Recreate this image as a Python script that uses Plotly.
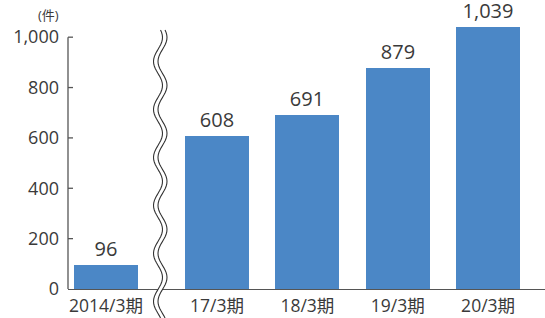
import math
import plotly.graph_objects as go

categories = ["2014/3期", "17/3期", "18/3期", "19/3期", "20/3期"]
values = [96, 608, 691, 879, 1039]
value_labels = ["96", "608", "691", "879", "1,039"]
ytick_vals = [0, 200, 400, 600, 800, 1000]
ytick_text = ["0", "200", "400", "600", "800", "1,000"]
unit_label = "(件)"

W, H = 545, 318
L, R, T, B = 68, 0, 12, 29
PW, PH = W - L - R, H - T - B

# category positions, with extra gap after the first (axis break)
BREAK_GAP = 0.23
xpos = [i + (BREAK_GAP if i > 0 else 0) for i in range(len(categories))]

FONT = "Open Sans, Noto Sans CJK JP, sans-serif"
TXT = "#3a3a3a"
BAR = "#4B87C6"

fig = go.Figure()
fig.add_trace(go.Bar(
    x=xpos, y=values, width=0.707, marker=dict(color=BAR, line=dict(width=0)),
    text=value_labels, textposition="outside", cliponaxis=False,
    textfont=dict(size=20, color=TXT, family=FONT),
))

fig.update_layout(
    width=W, height=H, margin=dict(l=L, r=R, t=T, b=B, pad=0, autoexpand=False),
    paper_bgcolor="white", plot_bgcolor="white", showlegend=False,
    font=dict(family=FONT, color=TXT),
    bargap=0,
)
fig.update_xaxes(range=[-0.42, 4.86], tickvals=xpos, ticktext=categories,
                 showgrid=False, zeroline=False, showline=True, linecolor="#555",
                 linewidth=1.3, ticks="", automargin=False, ticklabelstandoff=1,
                 tickfont=dict(size=17.5, color=TXT, family=FONT))
fig.update_yaxes(range=[0, 1100], tickvals=ytick_vals, ticktext=ytick_text,
                 showgrid=False, zeroline=False, showline=False, automargin=False,
                 ticks="", ticklabelstandoff=8,
                 tickfont=dict(size=18, color=TXT, family=FONT))

# y-axis line only from 0 to 1000, with short ticks to the right
fig.add_shape(type="line", xref="paper", yref="y", x0=0, x1=0, y0=0, y1=1000,
              line=dict(color="#555", width=1.3))
for v in ytick_vals[1:]:
    fig.add_shape(type="line", xref="paper", yref="y", x0=0, x1=5 / PW, y0=v, y1=v,
                  line=dict(color="#555", width=1.3))

fig.add_annotation(text=unit_label, xref="paper", yref="paper",
                   x=(48 - L) / PW, y=(289 - 15) / PH, xanchor="center", yanchor="middle",
                   showarrow=False, font=dict(size=13, color=TXT, family=FONT))

# wavy break lines
def px2p(px, py):
    return (px - L) / PW, (289 - py) / PH

def wave(xc, y0=30, y1=318, A=4.5, P=48, n=120):
    pts = []
    for k in range(n + 1):
        py = y0 + (y1 - y0) * k / n
        px = xc + A * math.sin(2 * math.pi * (py - y0) / P + 0.6)
        pts.append(px2p(px, py))
    return pts

w1 = wave(158)
w2 = wave(162.5)
fill_pts = w1 + w2[::-1]
fill_path = "M " + " L ".join(f"{x:.5f},{y:.5f}" for x, y in fill_pts) + " Z"
fig.add_shape(type="path", xref="paper", yref="paper", path=fill_path,
              fillcolor="white", line=dict(width=0), layer="above")
for pts in (w1, w2):
    p = "M " + " L ".join(f"{x:.5f},{y:.5f}" for x, y in pts)
    fig.add_shape(type="path", xref="paper", yref="paper", path=p,
                  line=dict(color="#333", width=1.1), layer="above")

fig.write_html("out.html", config={"displayModeBar": False},
               post_script="document.body.style.margin='0';document.body.style.padding='0';")
